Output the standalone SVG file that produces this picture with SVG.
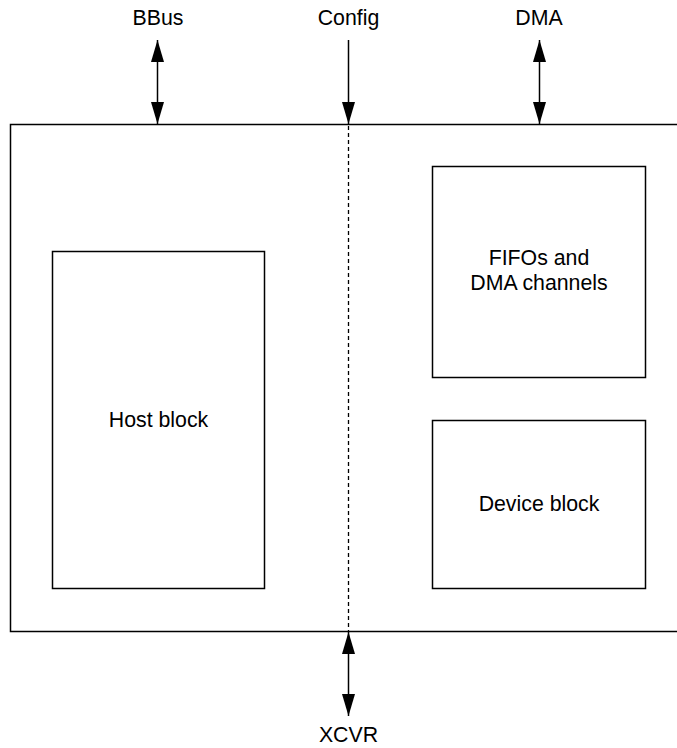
<svg xmlns="http://www.w3.org/2000/svg" width="677" height="748" viewBox="0 0 677 748">
<style>
.box{fill:none;stroke:#000;stroke-width:1.5}
.t{font-family:"Liberation Sans",Arial,sans-serif;font-size:21.3px;fill:#000;text-anchor:middle}
.ln{stroke:#000;stroke-width:1.5;fill:none}
.dash{stroke:#000;stroke-width:1.3;stroke-dasharray:4 3;fill:none}
</style>
<defs>
<marker id="ah" viewBox="0 0 22 13" refX="22" refY="6.5" markerWidth="22" markerHeight="13" markerUnits="userSpaceOnUse" orient="auto-start-reverse">
<path d="M0,0 L22,6.5 L0,13 Z" fill="#000"/>
</marker>
</defs>
<rect width="677" height="748" fill="#fff"/>
<g id="chip"><rect class="box" x="10.5" y="124.5" width="700" height="507"/></g>
<g id="host"><rect class="box" x="52.5" y="251.5" width="212" height="337"/><text class="t" x="158.5" y="427">Host block</text></g>
<g id="fifo"><rect class="box" x="432.5" y="166.5" width="213" height="211"/><text class="t" x="539" y="265">FIFOs and</text><text class="t" x="539" y="290">DMA channels</text></g>
<g id="device"><rect class="box" x="432.5" y="420.5" width="213" height="168"/><text class="t" x="539" y="511">Device block</text></g>
<g id="labels">
<text class="t" x="158" y="25">BBus</text>
<text class="t" x="348.5" y="25">Config</text>
<text class="t" x="539" y="25">DMA</text>
<text class="t" x="348.5" y="742">XCVR</text>
</g>
<g id="connectors">
<line class="ln" x1="157.5" y1="40" x2="157.5" y2="124" marker-start="url(#ah)" marker-end="url(#ah)"/>
<line class="ln" x1="348.5" y1="40" x2="348.5" y2="124" marker-end="url(#ah)"/>
<line class="ln" x1="539.5" y1="40" x2="539.5" y2="124" marker-start="url(#ah)" marker-end="url(#ah)"/>
<line class="ln" x1="348.5" y1="632" x2="348.5" y2="716" marker-start="url(#ah)" marker-end="url(#ah)"/>
<line class="dash" x1="348.5" y1="126" x2="348.5" y2="631"/>
</g>
</svg>
